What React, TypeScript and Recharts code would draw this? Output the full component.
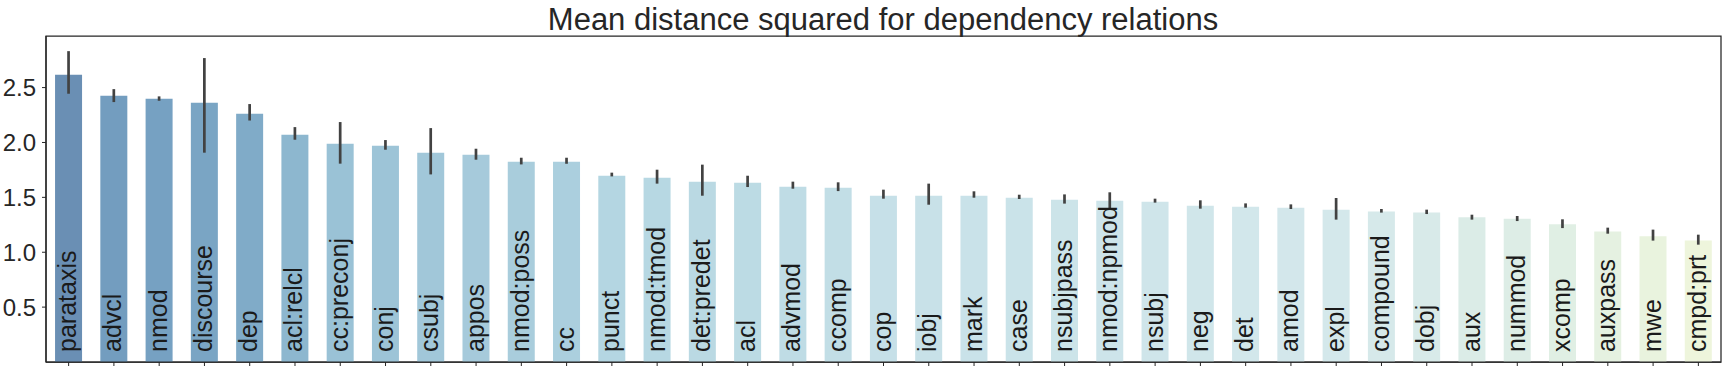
import React from "react";
import { BarChart, Bar, XAxis, YAxis, Cell, ErrorBar, ReferenceArea } from "recharts";

const categories = [
  "parataxis", "advcl", "nmod", "discourse", "dep", "acl:relcl", "cc:preconj", "conj",
  "csubj", "appos", "nmod:poss", "cc", "punct", "nmod:tmod", "det:predet", "acl",
  "advmod", "ccomp", "cop", "iobj", "mark", "case", "nsubjpass", "nmod:npmod",
  "nsubj", "neg", "det", "amod", "expl", "compound", "dobj", "aux", "nummod",
  "xcomp", "auxpass", "mwe", "cmpd:prt",
];

const meanValues = [
  2.617, 2.426, 2.399, 2.362, 2.262, 2.071, 1.989, 1.971,
  1.907, 1.889, 1.825, 1.825, 1.697, 1.679, 1.643, 1.634,
  1.597, 1.588, 1.515, 1.515, 1.515, 1.497, 1.479, 1.470,
  1.461, 1.424, 1.415, 1.406, 1.388, 1.370, 1.363, 1.318, 1.306,
  1.254, 1.190, 1.145, 1.108,
];

const ciLow = [
  2.444, 2.368, 2.380, 1.907, 2.200, 2.025, 1.807, 1.934,
  1.709, 1.843, 1.800, 1.806, 1.691, 1.625, 1.515, 1.594,
  1.579, 1.557, 1.488, 1.433, 1.497, 1.485, 1.443, 1.394,
  1.452, 1.397, 1.406, 1.394, 1.297, 1.361, 1.348, 1.297, 1.284,
  1.220, 1.169, 1.106, 1.069,
];

const ciHigh = [
  2.832, 2.486, 2.420, 2.769, 2.350, 2.140, 2.186, 2.022,
  2.131, 1.943, 1.861, 1.861, 1.725, 1.752, 1.798, 1.697,
  1.643, 1.637, 1.570, 1.625, 1.555, 1.524, 1.527, 1.546,
  1.488, 1.473, 1.445, 1.436, 1.494, 1.394, 1.388, 1.342, 1.330,
  1.300, 1.224, 1.206, 1.160,
];

const yTicks = [0.5, 1.0, 1.5, 2.0, 2.5];
const yMax = 2.97;

const barColors = [
  "#6a8fb4", "#739dbf", "#76a1c2", "#7aa5c4", "#80abc8", "#8db7cf", "#9ac2d6", "#9dc4d7",
  "#a1c7d9", "#a6cadb", "#a9cddc", "#abcfde", "#b4d6e2", "#b7d8e3", "#bad9e3", "#bcdbe4",
  "#bfdce5", "#c2dee6", "#c6e0e8", "#c8e1e8", "#c9e2e9", "#cae3e9", "#cce4e9", "#cde4ea",
  "#cfe5ea", "#d0e6ea", "#d2e7eb", "#d3e7eb", "#d4e8eb", "#d6e9ea", "#d8eae9", "#dbece7",
  "#ddede6", "#e0efe4", "#e5f1e1", "#e9f3de", "#eef5dc",
];

const data = categories.map((name, i) => ({
  name,
  value: meanValues[i],
  err: [meanValues[i] - ciLow[i], ciHigh[i] - meanValues[i]],
}));

const FONT = "'Liberation Sans', Arial, Helvetica, sans-serif";
const TEXT = "#262626";

const XTick = (props: any) => {
  const { x, y, payload } = props;
  return (
    <text
      transform={`translate(${x},${y - 16}) rotate(-90)`}
      textAnchor="start"
      dy={7.5}
      fontSize={25}
      fontFamily={FONT}
      fill="#1a1a1a"
    >
      {payload.value}
    </text>
  );
};

export default function App() {
  return (
    <div style={{ position: "relative", width: 1729, height: 373, background: "#fff" }}>
      <style>{`body{margin:0;}`}</style>
      <BarChart
        width={1729}
        height={373}
        data={data}
        margin={{ top: 36, right: 8, bottom: 0, left: 0 }}
        barCategoryGap="20%"
      >
        <XAxis
          dataKey="name"
          type="category"
          interval={0}
          height={11}
          tickSize={4}
          tick={<XTick />}
          axisLine={{ stroke: TEXT, strokeWidth: 1.25 }}
          tickLine={{ stroke: TEXT, strokeWidth: 1 }}
        />
        <YAxis
          type="number"
          domain={[0, yMax]}
          ticks={yTicks}
          width={46}
          tickSize={4}
          tickMargin={6}
          tickFormatter={(v: number) => v.toFixed(1)}
          tick={{ fontSize: 24, fontFamily: FONT, fill: TEXT }}
          axisLine={{ stroke: TEXT, strokeWidth: 1.25 }}
          tickLine={{ stroke: TEXT, strokeWidth: 1 }}
        />
        <Bar dataKey="value" isAnimationActive={false}>
          {data.map((d, i) => (
            <Cell key={d.name} fill={barColors[i]} />
          ))}
          <ErrorBar dataKey="err" width={0} stroke="#424242" strokeWidth={2.7} direction="y" />
        </Bar>
        <ReferenceArea
          y1={0}
          y2={yMax}
          fill="none"
          fillOpacity={0}
          stroke={TEXT}
          strokeWidth={1.25}
          ifOverflow="visible"
        />
      </BarChart>
      <svg
        width={1729}
        height={373}
        style={{ position: "absolute", left: 0, top: 0, pointerEvents: "none" }}
      >
        <text x={883} y={30} textAnchor="middle" fontSize={31} fontFamily={FONT} fill={TEXT}>
          Mean distance squared for dependency relations
        </text>
      </svg>
    </div>
  );
}
